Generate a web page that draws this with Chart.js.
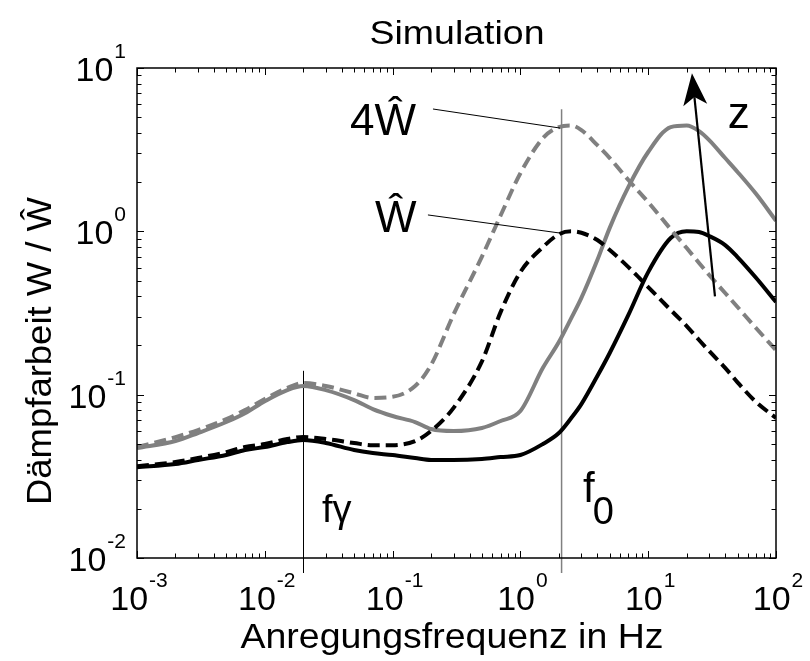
<!DOCTYPE html>
<html><head><meta charset="utf-8">
<script src="https://cdn.jsdelivr.net/npm/chart.js@4"></script>
<style>html,body{margin:0;padding:0;background:#fff}canvas{display:block}</style>
</head><body>
<canvas id="c" width="810" height="661"></canvas>
<script>
// ---- data ----
const freqHz = [0.001,0.002,0.003,0.005,0.007,0.01,0.015,0.02,0.03,0.05,0.07,0.1,0.15,0.2,0.3,0.5,0.7,1,1.5,2,2.5,3,4,5,7,10,15,20,25,30,40,50,70,100];
const grayDashed  = [0.0478,0.055,0.0607,0.0708,0.0805,0.094,0.11,0.118,0.113,0.102,0.0955,0.097,0.113,0.152,0.31,0.70,1.25,2.27,3.72,4.35,4.45,4.17,3.37,2.81,2.06,1.51,1.03,0.79,0.64,0.54,0.419,0.344,0.255,0.187];
const blackDashed = [0.0365,0.0387,0.0409,0.0445,0.0478,0.0499,0.0535,0.055,0.0535,0.0506,0.049,0.049,0.052,0.0599,0.083,0.16,0.32,0.563,0.80,0.96,1.0,0.98,0.885,0.768,0.604,0.456,0.33,0.263,0.216,0.185,0.146,0.119,0.09,0.072];
const graySolid   = [0.0471,0.052,0.0582,0.068,0.077,0.0912,0.1067,0.113,0.1067,0.0927,0.0816,0.074,0.068,0.0616,0.0599,0.0625,0.069,0.0794,0.146,0.21,0.294,0.391,0.667,1.05,1.87,3.06,4.35,4.45,4.11,3.62,2.81,2.31,1.69,1.16];
const blackSolid  = [0.036,0.0376,0.0398,0.0427,0.0458,0.0478,0.0512,0.0527,0.0506,0.0458,0.0439,0.0427,0.0409,0.0398,0.0398,0.0404,0.0415,0.0427,0.0499,0.0582,0.0719,0.0875,0.130,0.180,0.308,0.563,0.91,1.0,0.99,0.936,0.824,0.696,0.518,0.369];

const xTickValues = [0.001,0.01,0.1,1,10,100];
const xTickExps   = ['-3','-2','-1','0','1','2'];
const yTickValues = [0.01,0.1,1,10];
const yTickExps   = ['-2','-1','0','1'];

const titleText = 'Simulation';
const xTitle = 'Anregungsfrequenz in Hz';
const yTitle = 'Dämpfarbeit W / Ŵ';

const fGamma = 0.02;           // Hz, marker line
const fZero = 2.1;             // Hz, marker line
const fGammaTop = 0.14;        // top of fγ line (W)
const fZeroTop = 5.6;          // top of f0 line (W)
// annotation anchors in data units [freq, W]
const leader4W = [[0.207,5.61],[2.04,4.29]];
const leaderW  = [[0.189,1.26],[2.04,0.976]];
const label4W  = [0.0464,3.89];
const labelW   = [0.0728,0.99];
const arrowZ   = [[33.3,0.40],[22,9.3]];
const labelZ   = [42,4.29];
const labelFg  = [0.028,0.0166];
const labelF0  = [3.09,0.022];

const pts = ys => freqHz.map((f,i)=>({x:f,y:ys[i]}));
const GRAY = 'rgb(128,128,128)';
const FONT = "'Liberation Sans', Arial, sans-serif";

// reference text is slightly wider than Arial: stretch horizontally to the measured span
function wideText(ctx, text, x, y, size, width, align){
  ctx.font = size+'px '+FONT;
  const w = ctx.measureText(text).width;
  const sx = width ? width/w : 1;
  const total = w*sx;
  let x0 = align==='center' ? x-total/2 : (align==='right' ? x-total : x);
  ctx.save(); ctx.translate(x0, y); ctx.scale(sx, 1);
  ctx.textAlign='left'; ctx.fillText(text, 0, 0);
  ctx.restore();
}

function drawPow(ctx, base, exp, x, y, align, big, small, rise){
  ctx.font = big+'px '+FONT; const wb = ctx.measureText(base).width;
  ctx.font = small+'px '+FONT; const we = ctx.measureText(exp).width;
  const total = wb+we+1;
  let x0 = align==='center' ? x-total/2 : (align==='right' ? x-total : x);
  ctx.textAlign='left'; ctx.textBaseline='alphabetic';
  ctx.font = big+'px '+FONT; ctx.fillText(base, x0, y);
  ctx.font = small+'px '+FONT; ctx.fillText(exp, x0+wb+1, y-rise);
}

const deco = {
  id:'deco',
  beforeDatasetsDraw(chart){
    const ctx=chart.ctx, xs=chart.scales.x, ys=chart.scales.y, a=chart.chartArea;
    ctx.save();
    ctx.strokeStyle='#000'; ctx.lineWidth=1;
    let px=Math.round(xs.getPixelForValue(fGamma))+0.5;
    ctx.beginPath(); ctx.moveTo(px, ys.getPixelForValue(fGammaTop)); ctx.lineTo(px, a.bottom+15); ctx.stroke();
    ctx.strokeStyle=GRAY; ctx.lineWidth=1.5;
    px=xs.getPixelForValue(fZero);
    ctx.beginPath(); ctx.moveTo(px, ys.getPixelForValue(fZeroTop)); ctx.lineTo(px, a.bottom+15); ctx.stroke();
    ctx.restore();
  },
  afterDraw(chart){
    const ctx=chart.ctx, xs=chart.scales.x, ys=chart.scales.y, a=chart.chartArea;
    const P = p => [xs.getPixelForValue(p[0]), ys.getPixelForValue(p[1])];
    ctx.save();
    ctx.strokeStyle='#000'; ctx.lineWidth=1.5;
    ctx.strokeRect(a.left, a.top, a.right-a.left, a.bottom-a.top);
    ctx.lineWidth=1;
    for(let d=-3; d<=2; d++){
      for(let m=1; m<=9; m++){
        const v=m*Math.pow(10,d); if(v>100.0001) break;
        const x=Math.round(xs.getPixelForValue(v))+0.5, L=(m===1)?7:4.5;
        ctx.beginPath(); ctx.moveTo(x,a.bottom); ctx.lineTo(x,a.bottom-L);
        ctx.moveTo(x,a.top); ctx.lineTo(x,a.top+L); ctx.stroke();
      }
    }
    for(let d=-2; d<=1; d++){
      for(let m=1; m<=9; m++){
        const v=m*Math.pow(10,d); if(v>10.0001) break;
        const y=Math.round(ys.getPixelForValue(v))+0.5, L=(m===1)?7:4.5;
        ctx.beginPath(); ctx.moveTo(a.left,y); ctx.lineTo(a.left+L,y);
        ctx.moveTo(a.right,y); ctx.lineTo(a.right-L,y); ctx.stroke();
      }
    }
    ctx.fillStyle='#000'; ctx.textBaseline='alphabetic';
    xTickValues.forEach((v,i)=>{
      drawPow(ctx,'10',xTickExps[i], xs.getPixelForValue(v)+2, a.bottom+52, 'center', 34, 21, 23);
    });
    yTickValues.forEach((v,i)=>{
      drawPow(ctx,'10',yTickExps[i], a.left-11, ys.getPixelForValue(v)+13, 'right', 34, 21, 23);
    });
    // titles
    wideText(ctx, titleText, 457, 44, 34, 175, 'center');
    wideText(ctx, xTitle, 452, 648, 35, 423, 'center');
    ctx.save(); ctx.translate(51, 351); ctx.rotate(-Math.PI/2);
    wideText(ctx, yTitle, 0, 0, 35, 308, 'center'); ctx.restore();
    // leader lines
    ctx.strokeStyle='#000'; ctx.lineWidth=1;
    [leader4W, leaderW].forEach(L=>{
      const p1=P(L[0]), p2=P(L[1]);
      ctx.beginPath(); ctx.moveTo(p1[0],p1[1]); ctx.lineTo(p2[0],p2[1]); ctx.stroke();
    });
    // annotation texts
    ctx.textAlign='left';
    ctx.font='44px '+FONT;
    let p=P(label4W); ctx.fillText('4Ŵ', p[0], p[1]);
    p=P(labelW); ctx.fillText('Ŵ', p[0], p[1]);
    p=P(labelZ); ctx.fillText('z', p[0], p[1]);
    p=P(labelFg); ctx.font='38px '+FONT; ctx.fillText('fγ', p[0], p[1]);
    p=P(labelF0); ctx.font='42px '+FONT; ctx.fillText('f', p[0], p[1]);
    const wf=ctx.measureText('f').width;
    ctx.font='38px '+FONT; ctx.fillText('0', p[0]+wf-2, p[1]+22);
    // arrow
    const s=P(arrowZ[0]), t=P(arrowZ[1]);
    const dx=t[0]-s[0], dy=t[1]-s[1], len=Math.hypot(dx,dy), ux=dx/len, uy=dy/len, nx=-uy, ny=ux;
    const H=32, W2=12, notch=8;
    ctx.lineWidth=2.2;
    ctx.beginPath(); ctx.moveTo(s[0],s[1]); ctx.lineTo(t[0]-ux*(H-notch), t[1]-uy*(H-notch)); ctx.stroke();
    ctx.beginPath();
    ctx.moveTo(t[0],t[1]);
    ctx.lineTo(t[0]-ux*H+nx*W2, t[1]-uy*H+ny*W2);
    ctx.lineTo(t[0]-ux*(H-notch), t[1]-uy*(H-notch));
    ctx.lineTo(t[0]-ux*H-nx*W2, t[1]-uy*H-ny*W2);
    ctx.closePath(); ctx.fill();
    ctx.restore();
  }
};

new Chart(document.getElementById('c'), {
  type:'line',
  data:{ datasets:[
    {label:'4Ŵ', data:pts(grayDashed), borderColor:GRAY, borderDash:[12,6], order:0},
    {label:'Ŵ', data:pts(blackDashed), borderColor:'#000', borderDash:[12,6], order:0},
    {label:'4Ŵ z', data:pts(graySolid), borderColor:GRAY, order:1},
    {label:'Ŵ z', data:pts(blackSolid), borderColor:'#000', order:1}
  ]},
  options:{
    responsive:false, animation:false, devicePixelRatio:1,
    layout:{padding:{left:0,right:34,top:68,bottom:0}},
    elements:{point:{radius:0}, line:{borderWidth:4, tension:0, cubicInterpolationMode:'monotone', fill:false}},
    plugins:{legend:{display:false}, title:{display:false}, tooltip:{enabled:false}},
    scales:{
      x:{type:'logarithmic', min:0.001, max:100, ticks:{display:false}, grid:{display:false}, border:{display:false},
         afterFit(s){ s.height=103; }},
      y:{type:'logarithmic', min:0.01, max:10, ticks:{display:false}, grid:{display:false}, border:{display:false},
         afterFit(s){ s.width=137; }}
    }
  },
  plugins:[deco]
});
</script>
</body></html>
